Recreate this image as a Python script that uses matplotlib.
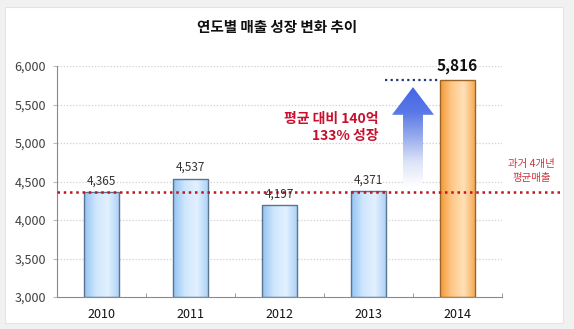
import numpy as np
import matplotlib.pyplot as plt
from matplotlib.colors import LinearSegmentedColormap
from matplotlib.patches import Polygon, Rectangle

plt.rcParams['font.family'] = ['Noto Sans CJK KR', 'DejaVu Sans']

# 데이터
years = ["2010", "2011", "2012", "2013", "2014"]
sales = [4365, 4537, 4197, 4371, 5816]
yticks = [3000, 3500, 4000, 4500, 5000, 5500, 6000]

avg = np.mean(sales[:4])
y0 = yticks[0]

fig = plt.figure(figsize=(5.74, 3.29), dpi=100)
fig.patch.set_facecolor("#f1f1f1")
fig.patches.append(Rectangle((5 / 574, 6 / 329), 558 / 574, 316 / 329,
                             transform=fig.transFigure, facecolor="white",
                             edgecolor="#e4e4e4", lw=0.8, zorder=-5))

ax = fig.add_axes([57 / 574, 32 / 329, 445 / 574, 231 / 329])
ax.set_facecolor("none")

x = np.arange(len(years))
colors = ["blue"] * 4 + ["orange"]
heights = [v - y0 for v in sales]
bars = ax.bar(x, heights, width=0.4, bottom=y0, facecolor="none",
              edgecolor=["#5b7490"] * 4 + ["#9a6526"], lw=1.0, zorder=3)

cm_blue = LinearSegmentedColormap.from_list("b", ["#93c4f2", "#cfe6fd", "#e2f1ff", "#a9d0f5"])
cm_orange = LinearSegmentedColormap.from_list("o", ["#f39a36", "#ffc98a", "#ffe0b8", "#f5a84e"])
grad = np.linspace(0, 1, 100).reshape(1, -1)
for b, c in zip(bars, colors):
    bx, w, h = b.get_x(), b.get_width(), b.get_height()
    im = ax.imshow(grad, extent=[bx, bx + w, y0, y0 + h], aspect="auto",
                   cmap=cm_blue if c == "blue" else cm_orange, zorder=2)
    im.set_clip_path(b)

# 값 라벨
for xi, v in zip(x[:4], sales[:4]):
    ax.annotate(f"{v:,}", (xi, v), xytext=(0, 8), textcoords="offset points",
                ha="center", va="center", fontsize=8.5, color="#333333", zorder=6)
ax.annotate(f"{sales[4]:,}", (x[4], sales[4]), xytext=(0, 10), textcoords="offset points",
            ha="center", va="center", fontsize=11, fontweight="bold", color="#111111")

ax.set_xlim(-0.5, 4.5)
ax.set_ylim(3000, 6000)

# 평균선
ax.plot([-0.5, 5.19], [avg, avg], ls=(0, (1, 1.5)), lw=1.8, color="#c0141e",
        clip_on=False, zorder=5)
ax.text(4.83, avg + 270, "과거 4개년\n평균매출", ha="center", va="center",
        fontsize=7.5, fontweight="medium", color="#d2333f", linespacing=1.5,
        clip_on=False)

# 2014 수준 점선
ax.plot([3.18, 3.8], [sales[4], sales[4]], ls=(0, (1, 1.5)), lw=1.6,
        color="#1f3a7a", zorder=4)

# 화살표
ax_c, base, tip = 3.5, avg + 60, sales[4] - 90
hw, sw, hl = 0.236, 0.112, 360
pts = [(ax_c - sw, base), (ax_c - sw, tip - hl), (ax_c - hw, tip - hl), (ax_c, tip),
       (ax_c + hw, tip - hl), (ax_c + sw, tip - hl), (ax_c + sw, base)]
arrow = Polygon(pts, closed=True, facecolor="none", edgecolor="none", zorder=3)
ax.add_patch(arrow)
cm_arrow = LinearSegmentedColormap.from_list("a", ["#ffffff", "#dde4f8", "#98acec", "#5a78e6", "#4466e6"])
vgrad = np.linspace(0, 1, 200).reshape(-1, 1)
im = ax.imshow(vgrad, extent=[ax_c - hw, ax_c + hw, base, tip], origin="lower",
               aspect="auto", cmap=cm_arrow, zorder=3)
im.set_clip_path(arrow)

ax.text(3.11, 5200, "평균 대비 140억\n133% 성장", ha="right", va="center",
        fontsize=10, fontweight="bold", color="#c8102e", linespacing=1.3)

ax.set_xlim(-0.5, 4.5)
ax.set_ylim(3000, 6000)

# 축 스타일
for s in ["top", "right"]:
    ax.spines[s].set_visible(False)
ax.spines["left"].set_color("#8a8a8a")
ax.spines["bottom"].set_color("#8a8a8a")
ax.set_yticks(yticks)
ax.set_yticklabels([f"{t:,}" for t in yticks])
ax.set_xticks(x)
ax.set_xticklabels(years)
ax.set_xticks(np.arange(-0.5, 5, 1), minor=True)
ax.tick_params(axis="x", which="major", length=0, pad=8, labelsize=9, colors="#111111")
ax.tick_params(axis="x", which="minor", length=3, direction="in", color="#8a8a8a")
ax.tick_params(axis="y", length=3, labelsize=9, colors="#404040", pad=5)
ax.tick_params(axis="y", color="#bbbbbb")
for t in yticks[1:]:
    ax.axhline(t, color="#cfcfcf", ls=(0, (1, 1.5)), lw=0.9, zorder=1)

fig.text(0.482, 1 - 27 / 329, "연도별 매출 성장 변화 추이", ha="center", va="center",
         fontsize=10.5, fontweight="bold", color="#111111")

fig.savefig("out.png", dpi=100)
